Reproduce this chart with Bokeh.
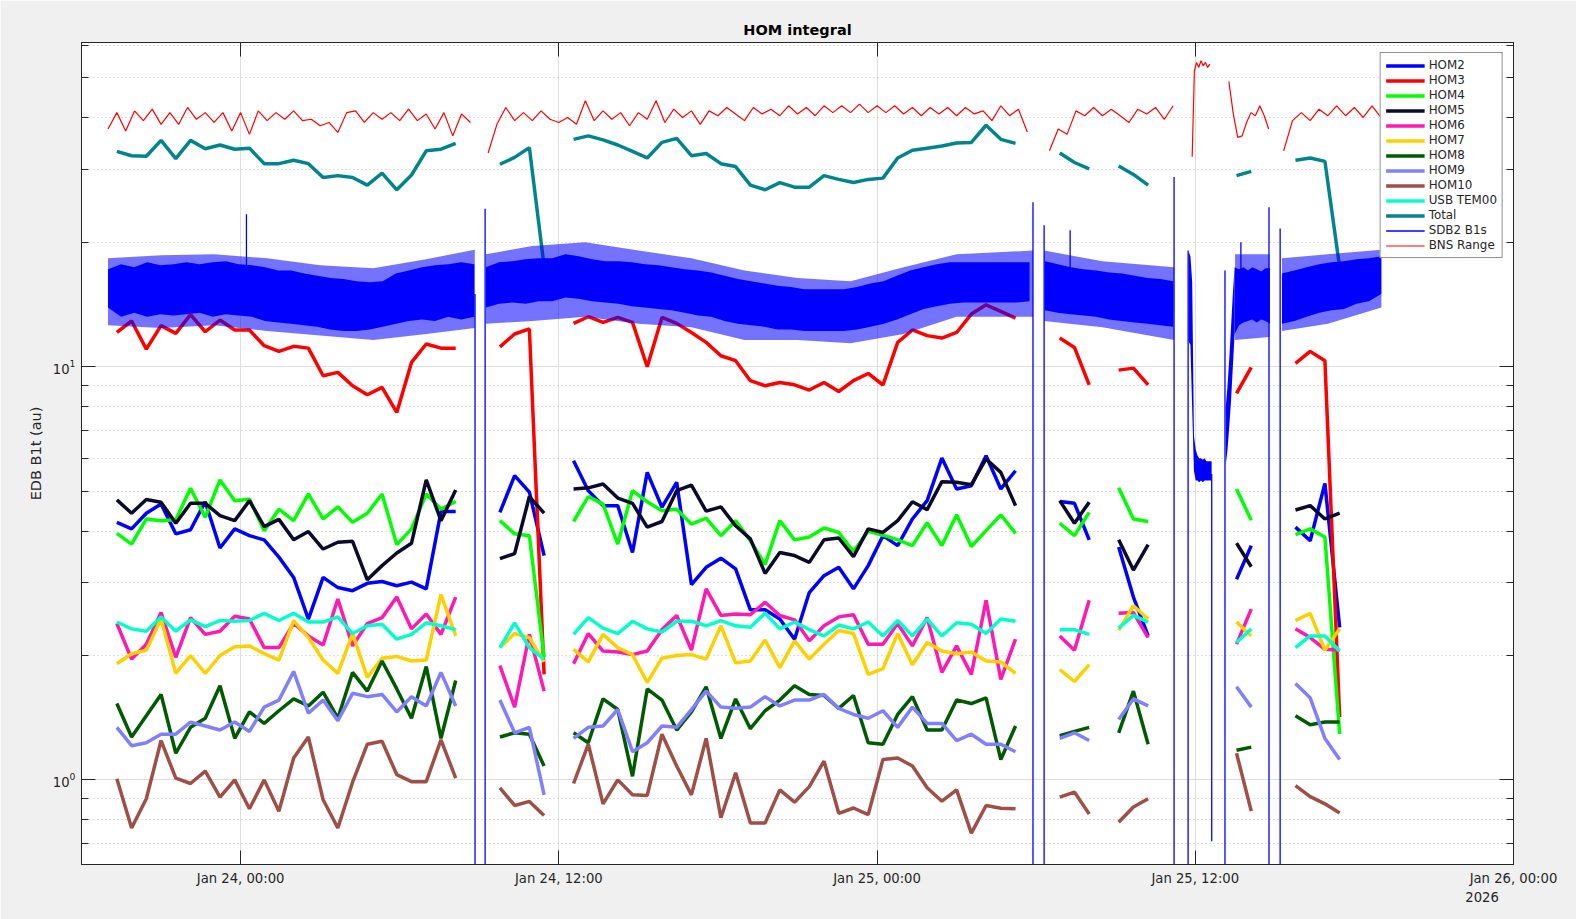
import numpy as np
import pandas as pd
from bokeh.plotting import figure
from bokeh.models import (FixedTicker, LinearAxis, LogAxis, Range1d,
                          Legend, LegendItem, Title)
from bokeh.embed import file_html
from bokeh.resources import INLINE

# ---------------- axes / ticks ----------------
x_start = "2026-01-23 18:00"
x_end = "2026-01-26 00:00"
y_start, y_end = 0.624, 60.9
x_tick_times = ["2026-01-24 00:00", "2026-01-24 12:00", "2026-01-25 00:00",
                "2026-01-25 12:00", "2026-01-26 00:00"]
x_tick_labels = ["Jan 24, 00:00", "Jan 24, 12:00", "Jan 25, 00:00",
                 "Jan 25, 12:00", "Jan 26, 00:00"]
year_label = "2026"
y_major = [1, 10]
y_minor = [0.7, 0.8, 0.9, 2, 3, 4, 5, 6, 7, 8, 9, 20, 30, 40, 50, 60]

# ---------------- HOM series (sample every 2000 s, runs separated by gaps) ----------------
hom_start = "2026-01-23 19:20"
hom_step_s = 2000
hom_count = 84
hom_run_start = [0, 26, 31, 64, 68, 76, 80]

hom2 = [[4.20, 4.05, 4.42, 4.65, 3.94, 4.03, 4.71, 3.64, 4.05, 3.90, 3.81, 3.46, 3.09, 2.45, 3.09, 2.92, 2.87, 2.99, 3.02, 2.95, 3.01, 2.90, 4.46, 4.46],
        [4.44, 5.45, 4.97, 3.49],
        [5.92, 5.01, 4.61, 4.61, 3.55, 5.55, 4.57, 5.25, 2.97, 3.27, 3.44, 3.24, 2.58, 2.58, 2.45, 2.19, 2.84, 3.12, 3.27, 2.90, 3.30, 3.90, 3.69, 4.28, 4.74, 6.01, 5.06, 5.15, 6.09, 5.06, 5.60],
        [4.72, 4.67, 3.81], [3.66, 2.77, 2.23], [3.06, 3.69], [4.09, 3.79, 5.22, 2.34]]
hom3 = [[12.1, 12.9, 11.03, 12.57, 12.04, 13.37, 12.15, 12.97, 12.27, 12.27, 11.24, 10.89, 11.2, 11.09, 9.51, 9.69, 8.99, 8.55, 8.91, 7.75, 10.24, 11.35, 11.09, 11.09],
        [11.17, 12.0, 12.34, 1.8],
        [12.73, 13.21, 12.8, 13.16, 12.8, 10.0, 13.16, 12.73, 12.1, 11.45, 10.63, 10.34, 9.25, 8.99, 9.16, 9.04, 8.78, 9.16, 8.71, 9.25, 9.63, 9.03, 11.45, 12.27, 11.89, 11.73, 12.1, 13.41, 14.12, 13.61, 13.11],
        [11.73, 11.13, 9.04], [9.81, 9.92, 9.04], [8.62, 9.96], [10.19, 10.89, 10.34, 1.42]]
hom4 = [[3.95, 3.72, 4.28, 4.24, 4.26, 5.08, 4.32, 5.32, 4.74, 4.78, 4.01, 4.52, 4.24, 4.92, 4.28, 4.58, 4.20, 4.42, 4.92, 3.71, 4.05, 4.92, 4.52, 4.72],
        [4.24, 3.94, 3.90, 1.98],
        [4.22, 4.85, 4.65, 3.72, 5.01, 4.71, 4.48, 4.52, 4.16, 4.30, 3.90, 4.24, 3.79, 3.32, 4.24, 3.81, 3.87, 4.07, 3.97, 3.57, 4.0, 3.91, 3.81, 3.69, 4.19, 3.69, 4.38, 3.67, 4.01, 4.38, 3.95],
        [4.18, 3.90, 4.44], [5.09, 4.28, 4.22], [5.06, 4.25], [3.92, 4.05, 3.87, 1.29]]
hom5 = [[4.76, 4.42, 4.77, 4.70, 4.18, 4.67, 4.67, 4.36, 4.24, 4.74, 4.10, 4.27, 3.81, 3.99, 3.62, 3.76, 3.78, 3.05, 3.30, 3.54, 3.74, 5.32, 4.24, 5.03],
        [3.43, 3.53, 4.85, 4.42],
        [5.06, 5.09, 5.20, 4.81, 4.67, 4.09, 4.22, 5.01, 5.17, 4.47, 4.58, 4.12, 3.83, 3.16, 3.55, 3.49, 3.36, 3.81, 3.85, 3.47, 4.05, 3.97, 4.24, 4.71, 4.51, 5.27, 5.25, 5.18, 5.98, 5.55, 4.61],
        [4.74, 4.18, 4.70], [3.81, 3.22, 3.71], [3.74, 3.28], [4.50, 4.61, 4.28, 4.42]]
hom6 = [[2.39, 1.96, 2.13, 2.54, 1.98, 2.47, 2.25, 2.29, 2.49, 2.45, 2.09, 2.09, 2.39, 2.23, 2.12, 2.74, 2.11, 2.39, 2.47, 2.77, 2.32, 2.52, 2.25, 2.77],
        [1.89, 1.50, 2.25, 1.64],
        [1.91, 2.26, 2.05, 2.04, 2.01, 2.05, 2.31, 2.50, 2.06, 2.90, 2.50, 2.52, 2.51, 2.69, 2.50, 2.44, 2.17, 2.36, 2.48, 2.51, 2.13, 2.13, 2.39, 2.11, 2.47, 1.82, 2.11, 1.80, 2.72, 1.75, 2.19],
        [2.23, 2.06, 2.72], [2.53, 2.54, 2.21], [2.13, 2.59], [2.32, 2.21, 2.07, 2.06]]
hom7 = [[1.91, 2.02, 2.06, 2.45, 1.81, 2.00, 1.81, 2.00, 2.10, 2.11, 2.02, 1.95, 2.43, 2.21, 1.95, 1.81, 2.26, 1.77, 1.97, 1.99, 1.94, 1.95, 2.81, 2.23],
        [2.09, 2.26, 2.21, 1.93],
        [2.07, 1.93, 2.25, 2.09, 2.01, 1.72, 1.97, 2.00, 2.01, 1.96, 2.36, 1.92, 1.94, 2.18, 1.87, 2.17, 1.96, 2.13, 2.30, 2.26, 1.80, 1.86, 2.26, 1.90, 2.15, 2.05, 2.02, 2.04, 1.94, 1.93, 1.81],
        [1.85, 1.73, 1.90], [2.30, 2.64, 2.45], [2.41, 2.23], [2.43, 2.53, 2.06, 2.32]]
hom8 = [[1.53, 1.27, 1.43, 1.61, 1.16, 1.34, 1.41, 1.69, 1.26, 1.46, 1.37, 1.47, 1.57, 1.51, 1.63, 1.41, 1.82, 1.64, 1.94, 1.66, 1.41, 1.88, 1.26, 1.74],
        [1.27, 1.30, 1.29, 1.08],
        [1.30, 1.23, 1.57, 1.48, 1.02, 1.66, 1.56, 1.32, 1.46, 1.68, 1.26, 1.57, 1.33, 1.47, 1.56, 1.69, 1.61, 1.60, 1.49, 1.60, 1.23, 1.22, 1.44, 1.59, 1.32, 1.32, 1.56, 1.53, 1.58, 1.12, 1.35],
        [1.28, 1.31, 1.34], [1.30, 1.64, 1.22], [1.18, 1.20], [1.43, 1.36, 1.38, 1.38]]
hom9 = [[1.34, 1.21, 1.23, 1.29, 1.29, 1.38, 1.35, 1.32, 1.38, 1.31, 1.50, 1.56, 1.83, 1.45, 1.56, 1.39, 1.62, 1.59, 1.61, 1.46, 1.59, 1.51, 1.82, 1.51],
        [1.56, 1.30, 1.34, 0.92],
        [1.26, 1.34, 1.35, 1.48, 1.17, 1.23, 1.35, 1.34, 1.48, 1.64, 1.50, 1.49, 1.50, 1.59, 1.51, 1.56, 1.56, 1.61, 1.49, 1.44, 1.41, 1.47, 1.34, 1.50, 1.37, 1.37, 1.245, 1.29, 1.22, 1.22, 1.17],
        [1.26, 1.30, 1.245], [1.40, 1.57, 1.51], [1.68, 1.50], [1.71, 1.58, 1.26, 1.12]]
hom10 = [[1.006, 0.765, 0.90, 1.245, 1.01, 0.98, 1.05, 0.908, 1.0, 0.851, 1.0, 0.84, 1.13, 1.27, 0.895, 0.765, 0.987, 1.22, 1.24, 1.03, 0.99, 0.99, 1.25, 1.01],
         [0.957, 0.867, 0.887, 0.82],
         [0.98, 1.22, 0.875, 1.0, 0.92, 0.917, 1.29, 1.08, 0.92, 1.26, 0.81, 1.04, 0.786, 0.786, 0.946, 0.883, 0.963, 1.11, 0.83, 0.855, 0.824, 1.12, 1.13, 1.08, 0.957, 0.888, 0.946, 0.743, 0.867, 0.854, 0.851],
         [0.908, 0.934, 0.827], [0.79, 0.86, 0.90], [1.16, 0.84], [0.969, 0.911, 0.875, 0.831]]
usb_tem00 = [[2.41, 2.32, 2.29, 2.48, 2.29, 2.44, 2.35, 2.43, 2.42, 2.43, 2.53, 2.43, 2.53, 2.41, 2.41, 2.48, 2.26, 2.36, 2.38, 2.19, 2.25, 2.40, 2.36, 2.31],
             [2.09, 2.40, 2.09, 1.96],
             [2.25, 2.47, 2.33, 2.26, 2.42, 2.32, 2.28, 2.42, 2.42, 2.36, 2.43, 2.36, 2.34, 2.53, 2.32, 2.41, 2.31, 2.23, 2.37, 2.32, 2.41, 2.23, 2.43, 2.23, 2.45, 2.23, 2.40, 2.38, 2.26, 2.45, 2.42],
             [2.31, 2.31, 2.25], [2.33, 2.50, 2.41], [2.15, 2.32], [2.09, 2.23, 2.23, 2.05]]
total = [[33.2, 32.4, 32.3, 35.3, 31.9, 35.3, 33.7, 34.4, 33.6, 33.8, 31.0, 31.0, 31.6, 31.0, 28.7, 29.0, 28.7, 27.5, 29.4, 26.8, 29.1, 33.3, 33.6, 34.7],
         [30.9, 32.1, 33.9, 17.5],
         [35.5, 36.2, 35.4, 34.4, 33.2, 32.0, 34.9, 35.7, 32.4, 32.8, 31.0, 30.5, 27.5, 26.8, 27.9, 27.2, 27.2, 29.0, 28.4, 27.9, 28.4, 28.6, 32.0, 33.4, 33.8, 34.2, 34.8, 34.9, 38.4, 35.5, 34.7],
         [32.9, 31.2, 30.1], [30.6, 29.2, 27.5], [29.0, 29.7], [31.6, 32.0, 31.4, 17.4]]

series_names = ["HOM2", "HOM3", "HOM4", "HOM5", "HOM6", "HOM7", "HOM8", "HOM9",
                "HOM10", "USB TEM00", "Total"]
series_colors = ["#0000ff", "#ff0000", "#00ff00", "#0a0a2a", "#ff19b3", "#ffd000",
                 "#005a00", "#8080ff", "#9e5046", "#00ffcc", "#00858f"]
series_data = [hom2, hom3, hom4, hom5, hom6, hom7, hom8, hom9, hom10, usb_tem00, total]

# ---------------- SDB2 B1s: dense noise core (upper / lower envelope) ----------------
sdb_start_h = [1.0, 15.25, 36.333, 41.75, 43.15, 43.483, 45.267]   # hours after x_start
sdb_step_min = [29.6, 30, 29, 4, 4, 10, 28.1]
sdb_hi = [[17.2, 17.7, 17.4, 17.9, 17.6, 17.7, 17.9, 17.7, 17.9, 18.0, 17.7, 17.6, 17.4, 17.1, 17.1, 16.8, 16.6, 16.4, 16.3, 16.1, 16.0, 16.1, 16.8, 17.1, 17.4, 17.6, 17.7, 17.9, 17.7],
          [17.4, 17.9, 18.0, 18.2, 18.3, 18.3, 18.7, 18.5, 18.2, 18.0, 18.0, 17.9, 17.7, 17.6, 17.4, 17.2, 17.1, 16.9, 16.6, 16.3, 16.1, 15.9, 15.7, 15.6, 15.4, 15.4, 15.4, 15.4, 15.6, 15.9, 16.1, 16.6, 17.1, 17.4, 17.7, 17.9, 17.9, 17.9, 17.9, 17.9, 17.9, 17.9],
          [18.0, 17.7, 17.4, 17.2, 17.1, 16.9, 16.8, 16.6, 16.4, 16.3, 16.1],
          [19.0, 18.5, 16.0, 6.8, 6.3, 6.1, 6.0, 6.0, 5.95, 6.0, 5.9, 5.9, 5.9, 5.9],
          [8.0, 9.0, 10.5, 12.5, 15.0, 17.4],
          [17.4, 17.2, 17.4, 17.1, 17.4, 17.2, 17.0, 17.3, 17.3],
          [16.8, 17.1, 17.4, 17.7, 17.9, 18.0, 18.2, 18.3, 18.5]]
sdb_lo = [[13.9, 13.2, 13.5, 13.2, 13.4, 13.3, 13.4, 13.5, 13.2, 13.4, 13.3, 13.2, 12.9, 12.8, 12.7, 12.6, 12.5, 12.3, 12.2, 12.2, 12.3, 12.5, 12.7, 12.9, 13.0, 12.9, 13.2, 13.0, 13.2],
          [13.9, 14.2, 14.3, 14.2, 14.4, 14.4, 14.7, 14.6, 14.4, 14.3, 14.2, 14.0, 13.9, 13.8, 13.7, 13.5, 13.3, 13.2, 12.9, 12.7, 12.6, 12.5, 12.3, 12.3, 12.2, 12.2, 12.2, 12.2, 12.3, 12.5, 12.7, 13.0, 13.4, 13.8, 14.0, 14.2, 14.3, 14.3, 14.3, 14.3, 14.3, 14.4],
          [13.7, 13.5, 13.4, 13.3, 13.2, 13.0, 12.9, 12.8, 12.7, 12.6, 12.5],
          [11.5, 11.3, 7.9, 5.6, 5.3, 5.3, 5.25, 5.3, 5.25, 5.3, 5.3, 5.3, 5.3, 5.3],
          [5.8, 6.3, 7.2, 8.3, 10.0, 12.0],
          [12.0, 12.6, 12.8, 12.9, 13.0, 12.8, 13.0, 12.9, 12.7],
          [12.7, 12.9, 13.2, 13.5, 13.7, 13.8, 14.2, 14.4, 15.0]]
# outer reach of the noise spikes (sparse fringe), hours after x_start
sdb_out_h = [[1.0, 3.0, 5.0, 7.0, 9.0, 11.0, 13.0, 14.83],
             [15.25, 17.0, 19.0, 21.0, 23.0, 25.0, 27.0, 29.0, 31.0, 33.0, 35.88],
             [36.3, 38.5, 41.2],
             [43.5, 44.8],
             [45.27, 47.0, 49.02]]
sdb_out_hi = [[18.3, 18.6, 18.7, 18.3, 17.6, 17.3, 18.2, 19.2],
              [18.7, 19.6, 20.0, 19.1, 18.3, 17.1, 16.4, 16.1, 17.4, 18.7, 19.1],
              [19.1, 18.0, 17.4],
              [18.7, 18.7],
              [18.3, 18.7, 19.2]]
sdb_out_lo = [[12.6, 12.4, 12.6, 12.2, 11.9, 11.6, 12.0, 12.4],
              [12.7, 12.9, 13.2, 12.7, 12.45, 11.6, 11.6, 11.4, 12.0, 13.2, 13.2],
              [12.9, 12.45, 11.6],
              [11.6, 11.8],
              [12.2, 12.7, 13.9]]
# isolated excursions (drop-outs and glitches)
sdb_spike_h = [6.22, 6.22, None, 14.84, 14.84, None, 15.22, 15.22, None,
               35.88, 35.88, None, 36.30, 36.30, None, 37.28, 37.28, None,
               41.20, 41.20, None, 41.73, 41.73, None, 42.62, 42.62, None,
               43.12, 43.12, None, 43.72, 43.72, None, 44.78, 44.78, None,
               45.20, 45.20]
sdb_spike_v = [16.0, 23.4, None, 15.0, 0.3, None, 0.3, 24.1, None,
               25.0, 0.3, None, 0.3, 22.0, None, 16.0, 21.4, None,
               28.8, 0.3, None, 0.3, 19.1, None, 5.5, 0.71, None,
               17.1, 0.3, None, 16.5, 20.0, None, 24.3, 0.3, None,
               0.3, 21.6]

# ---------------- BNS Range ----------------
bns_start_h = [1.0, 15.333, 36.5, 41.883, 43.267, 45.333]
bns_step_min = [20, 20, 20, 5, 10, 20]
bns_vals = [[37.6, 41.2, 37.2, 41.6, 39.4, 42.0, 38.6, 41.2, 38.6, 42.4, 39.7, 41.2, 39.0, 41.2, 37.2, 41.2, 36.5, 41.6, 39.4, 41.2, 39.7, 41.6, 39.4, 39.7, 38.3, 39.0, 36.9, 41.2, 41.6, 39.0, 41.2, 39.7, 41.2, 39.4, 42.0, 39.4, 40.9, 37.6, 41.2, 36.2, 40.9, 39.0],
            [32.9, 38.6, 42.4, 39.4, 41.2, 39.4, 41.6, 39.7, 39.0, 40.1, 38.6, 44.0, 39.4, 41.6, 39.7, 41.2, 38.3, 41.2, 39.7, 44.0, 39.0, 42.0, 40.1, 41.6, 38.6, 41.6, 40.5, 42.4, 40.9, 39.4, 42.4, 40.9, 42.0, 40.5, 42.8, 40.9, 42.4, 40.5, 42.8, 41.2, 42.8, 41.2, 43.2, 41.2, 42.8, 41.2, 42.8, 40.9, 42.4, 40.5, 42.4, 40.9, 42.4, 40.5, 42.4, 40.9, 41.6, 39.4, 42.8, 40.5, 42.0, 37.0],
            [33.3, 37.6, 36.5, 41.6, 40.5, 42.4, 40.5, 42.0, 40.5, 39.0, 42.0, 40.9, 42.4, 39.7, 42.8],
            [32.2, 52.0, 54.5, 53.0, 55.0, 53.5, 54.5, 53.0, 54.0],
            [49.0, 40.9, 35.9, 36.2, 39.0, 41.2, 40.5, 42.8, 40.5, 37.6],
            [33.3, 39.4, 41.2, 39.4, 42.0, 40.5, 42.8, 40.5, 42.4, 40.1, 42.8, 40.1]]

# ---------------- helpers ----------------
def to_ms(s):
    return pd.Timestamp(s).value / 1e6

base_ms = to_ms(x_start)
H = 3600e3
M = 60e3

def assemble(runs):
    y = np.full(hom_count, np.nan)
    for st, vals in zip(hom_run_start, runs):
        n = min(len(vals), hom_count - st)
        y[st:st + n] = vals[:n]
    return y

hom_t = to_ms(hom_start) + np.arange(hom_count) * hom_step_s * 1000.0

FONT = "DejaVu Sans"
AX = "#262626"
FRAME_W, FRAME_H = 1432, 822

p = figure(frame_width=FRAME_W, frame_height=FRAME_H,
           x_range=Range1d(base_ms, to_ms(x_end)),
           y_range=Range1d(y_start, y_end), y_axis_type="log",
           output_backend="svg", toolbar_location=None,
           min_border_left=81, min_border_right=63, min_border_top=42, min_border_bottom=55,
           background_fill_color="white", border_fill_color="#f0f0f0",
           outline_line_color=AX, outline_line_width=1,
           title="HOM integral")

p.title.align = "center"
p.title.text_font = FONT
p.title.text_font_size = "14.5px"
p.title.text_font_style = "bold"
p.title.text_color = "black"

xt = [int(to_ms(s)) for s in x_tick_times]
xticker = FixedTicker(ticks=xt, minor_ticks=[])
yticker = FixedTicker(ticks=y_major, minor_ticks=y_minor)

xa = p.xaxis[0]
xa.ticker = xticker
xa.major_label_overrides = {t: lab for t, lab in zip(xt, x_tick_labels)}
ya = p.yaxis[0]
ya.ticker = yticker
ya.axis_label = "EDB B1t (au)"
ya.axis_label_text_font = FONT
ya.axis_label_text_font_size = "14.5px"
ya.axis_label_text_font_style = "normal"
ya.axis_label_text_color = AX
ya.axis_label_standoff = 6

for ax in (xa, ya):
    ax.axis_line_color = AX
    ax.major_tick_line_color = AX
    ax.minor_tick_line_color = AX
    ax.major_tick_in = 14
    ax.major_tick_out = 0
    ax.minor_tick_in = 7
    ax.minor_tick_out = 0
    ax.major_label_text_font = FONT
    ax.major_label_text_font_size = "13.2px"
    ax.major_label_text_color = AX
    ax.major_label_standoff = 6

# tick marks on the top and right frame edges (labels invisible)
top_ax = LinearAxis(ticker=xticker, major_label_text_font_size="1px",
                    major_label_text_alpha=0, major_label_standoff=0,
                    major_tick_in=14, major_tick_out=0,
                    minor_tick_in=0, minor_tick_out=0, axis_line_color=AX,
                    major_tick_line_color=AX)
p.add_layout(top_ax, "above")
right_ax = LogAxis(ticker=yticker, major_label_text_font_size="1px",
                   major_label_text_alpha=0, major_label_standoff=0,
                   major_tick_in=14, major_tick_out=0,
                   minor_tick_in=7, minor_tick_out=0, axis_line_color=AX,
                   major_tick_line_color=AX, minor_tick_line_color=AX)
p.add_layout(right_ax, "right")

# year note under the last date tick
p.add_layout(Title(text=year_label, align="right", offset=14.7, standoff=2,
                   text_font=FONT, text_font_size="13.2px", text_font_style="normal",
                   text_color=AX), "below")

p.xgrid.ticker = xticker
p.ygrid.ticker = yticker
p.xgrid.grid_line_color = "#dedede"
p.ygrid.grid_line_color = "#dedede"
p.ygrid.minor_grid_line_color = "#c2c2c2"
p.ygrid.minor_grid_line_dash = "1 3"

# ---------------- glyphs ----------------
items = []
for name, color, runs in zip(series_names, series_colors, series_data):
    r = p.line(hom_t, assemble(runs), line_color=color, line_width=3.5)
    items.append(LegendItem(label=name, renderers=[r]))

for hs, hi, lo in zip(sdb_out_h, sdb_out_hi, sdb_out_lo):
    t = base_ms + np.array(hs) * H
    p.varea(x=t, y1=np.array(lo, float), y2=np.array(hi, float),
            fill_color="#0000ff", fill_alpha=0.55)

for st, step, hi, lo in zip(sdb_start_h, sdb_step_min, sdb_hi, sdb_lo):
    t = base_ms + st * H + np.arange(len(hi)) * step * M
    p.varea(x=t, y1=np.array(lo, float), y2=np.array(hi, float),
            fill_color="#0000ff", fill_alpha=1.0)

spx = np.array([np.nan if h is None else base_ms + h * H for h in sdb_spike_h])
spy = np.array([np.nan if v is None else v for v in sdb_spike_v], dtype=float)
r_sdb = p.line(spx, spy, line_color="#0000ff", line_width=1.3)
items.append(LegendItem(label="SDB2 B1s", renderers=[r_sdb]))

bx, by = [], []
for st, step, vals in zip(bns_start_h, bns_step_min, bns_vals):
    t = base_ms + st * H + np.arange(len(vals)) * step * M
    bx.extend(list(t) + [np.nan])
    by.extend(list(vals) + [np.nan])
r_bns = p.line(np.array(bx), np.array(by, float), line_color="#ff0000", line_width=1.2)
items.append(LegendItem(label="BNS Range", renderers=[r_bns]))

legend = Legend(items=items, location="top_right", margin=10, padding=5, spacing=1,
                glyph_width=39, glyph_height=13, label_height=13, label_standoff=4,
                label_text_font=FONT, label_text_font_size="11.9px", label_text_color=AX,
                border_line_color=AX, border_line_width=1,
                background_fill_color="white", background_fill_alpha=1.0)
p.add_layout(legend)

open("out.html", "w").write(file_html(p, INLINE))
